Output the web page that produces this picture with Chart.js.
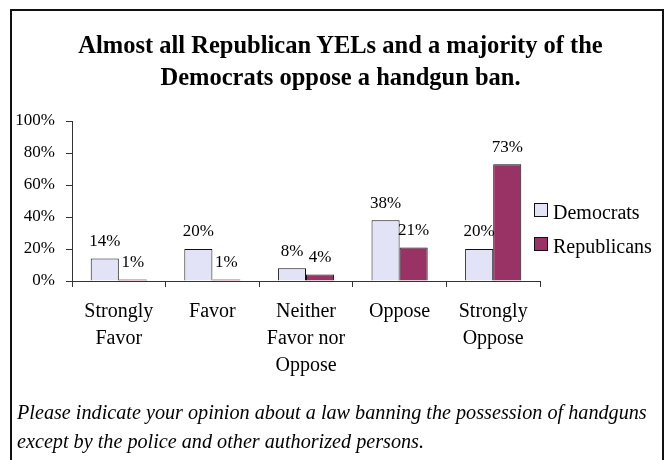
<!DOCTYPE html>
<html lang="en">
<head>
<meta charset="UTF-8">
<title>Handgun ban opinion by party</title>
<script src="https://cdn.jsdelivr.net/npm/chart.js@4"></script>
<style>
  html, body { margin: 0; padding: 0; background: #fff; }
  body { width: 665px; height: 460px; position: relative; overflow: hidden; font-family: "Liberation Serif", "Times New Roman", serif; color: #000; }
  .frame { position: absolute; left: 10px; top: 9px; width: 650px; height: 470px; border: 2px solid #111; }
  #chart { position: absolute; left: 0; top: 0; }
  .title { position: absolute; left: 18px; width: 645px; top: 29px; text-align: center; font-weight: bold; font-size: 24.5px; line-height: 32px; }
  .legend-box { position: absolute; width: 12px; height: 12px; border: 1px solid #111; }
  .legend-text { position: absolute; font-size: 20px; line-height: 20px; white-space: nowrap; }
  .note { position: absolute; left: 17px; top: 398px; font-style: italic; font-size: 20.2px; line-height: 29px; white-space: nowrap; }
</style>
</head>
<body>
<div class="frame"></div>
<canvas id="chart" width="665" height="460"></canvas>
<div class="title">Almost all Republican YELs and a majority of the<br>Democrats oppose a handgun ban.</div>
<div id="legend"></div>
<div class="note">Please indicate your opinion about a law banning the possession of handguns<br>except by the police and other authorized persons.</div>

<script>
// answer categories (multi-line labels) and the share answering each, by party
const categories = [
    ['Strongly', 'Favor'],
    ['Favor'],
    ['Neither', 'Favor nor', 'Oppose'],
    ['Oppose'],
    ['Strongly', 'Oppose']
];
const seriesNames = ['Democrats', 'Republicans'];
const democrats = [14, 20, 8, 38, 20];
const republicans = [1, 1, 4, 21, 73];
const seriesColors = ['#E3E3F8', '#993366'];
const yTicks = [0, 20, 40, 60, 80, 100];

const serif = '"Liberation Serif", "Times New Roman", serif';

// percent labels above each bar
const valueLabels = {
    id: 'valueLabels',
    afterDatasetsDraw(chart) {
        const ctx = chart.ctx;
        ctx.save();
        ctx.font = '17px ' + serif;
        ctx.fillStyle = '#000';
        ctx.textAlign = 'center';
        ctx.textBaseline = 'middle';
        chart.data.datasets.forEach((ds, i) => {
            chart.getDatasetMeta(i).data.forEach((bar, j) => {
                ctx.fillText(ds.data[j] + '%', bar.x, bar.y - 17);
            });
        });
        ctx.restore();
    }
};

const ctx = document.getElementById('chart').getContext('2d');
const chart = new Chart(ctx, {
    type: 'bar',
    data: {
        labels: categories,
        datasets: [
            { label: seriesNames[0], data: democrats, backgroundColor: seriesColors[0], borderColor: '#111', borderWidth: 1 },
            { label: seriesNames[1], data: republicans, backgroundColor: seriesColors[1], borderColor: '#111', borderWidth: 1 }
        ]
    },
    options: {
        responsive: false,
        animation: false,
        datasets: { bar: { categoryPercentage: 0.6, barPercentage: 1.0 } },
        layout: { padding: { top: 121, right: 125, bottom: 0, left: 0 } },
        plugins: {
            legend: { display: false },
            title: { display: false },
            tooltip: { enabled: false }
        },
        scales: {
            x: {
                grid: { offset: true, drawOnChartArea: false, tickLength: 6, color: '#333' },
                border: { display: true, color: '#333', width: 1 },
                ticks: { padding: 11, color: '#000', font: { family: serif, size: 20, lineHeight: 1.35 }, maxRotation: 0, autoSkip: false },
                afterFit(scale) { scale.height = 179; }
            },
            y: {
                min: 0,
                max: 100,
                afterBuildTicks(scale) { scale.ticks = yTicks.map(v => ({ value: v })); },
                grid: { drawOnChartArea: false, tickLength: 6, color: '#333' },
                border: { display: true, color: '#333', width: 1 },
                ticks: { padding: 11, color: '#000', font: { family: serif, size: 17 }, callback: v => v + '%' },
                afterFit(scale) { scale.width = 72; }
            }
        }
    },
    plugins: [valueLabels]
});

// legend to the right of the plot
const legend = document.getElementById('legend');
seriesNames.forEach((name, i) => {
    const top = 203 + i * 34;
    const box = document.createElement('div');
    box.className = 'legend-box';
    box.style.left = '534px';
    box.style.top = top + 'px';
    box.style.background = seriesColors[i];
    const text = document.createElement('div');
    text.className = 'legend-text';
    text.style.left = '553px';
    text.style.top = (top - 1) + 'px';
    text.textContent = name;
    legend.appendChild(box);
    legend.appendChild(text);
});
</script>
</body>
</html>
